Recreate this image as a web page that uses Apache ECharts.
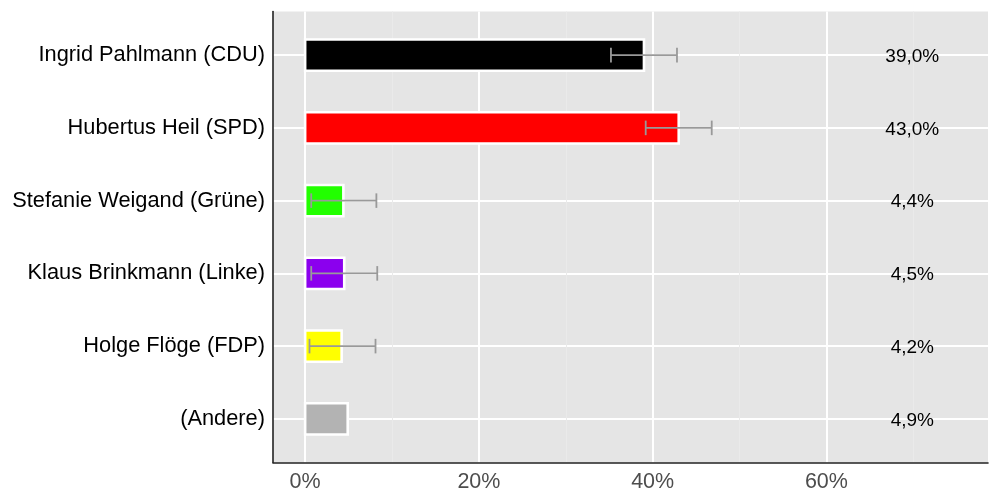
<!DOCTYPE html>
<html>
<head>
<meta charset="utf-8">
<script src="https://cdn.jsdelivr.net/npm/echarts@6/dist/echarts.min.js"></script>
<style>html,body{margin:0;padding:0;background:#fff}#c{width:1000px;height:500px}</style>
</head>
<body>
<div id="c"></div>
<script>
const categories = ['Ingrid Pahlmann (CDU)', 'Hubertus Heil (SPD)', 'Stefanie Weigand (Grüne)', 'Klaus Brinkmann (Linke)', 'Holge Flöge (FDP)', '(Andere)'];
const values = [39.0, 43.0, 4.4, 4.5, 4.2, 4.9];
const errLow = [35.2, 39.2, 0.7, 0.7, 0.5, null];
const errHigh = [42.8, 46.8, 8.2, 8.3, 8.1, null];
const barColors = ['#000000', '#ff0000', '#22ff00', '#8b00ee', '#ffff00', '#b3b3b3'];
const labelX = 70;
const xMajorTicks = [0, 20, 40, 60];
const xMinorTicks = [10, 30, 50, 70];
const yTicks = [0, 1, 2, 3, 4, 5];

const FONT = "'Liberation Sans', Arial, Helvetica, sans-serif";
const fmt = v => v.toFixed(1).replace('.', ',') + '%';

const chart = echarts.init(document.getElementById('c'), null, {renderer: 'canvas'});
chart.setOption({
  animation: false,
  grid: {left: 273, right: 12, top: 11.5, bottom: 37.5, show: true, backgroundColor: '#e5e5e5', borderWidth: 0},
  xAxis: [{
    type: 'value', min: -3.7, max: 78.6,
    axisLine: {show: true, onZero: false, lineStyle: {color: '#222', width: 1.6}},
    axisTick: {show: false, customValues: xMajorTicks},
    axisLabel: {customValues: xMajorTicks, formatter: v => v + '%', color: '#4d4d4d', fontSize: 21.5, fontFamily: FONT, margin: 9},
    splitLine: {show: true, lineStyle: {color: '#ffffff', width: 2}}
  }, {
    type: 'value', min: -3.7, max: 78.6, position: 'bottom',
    axisLine: {show: false, onZero: false}, axisLabel: {show: false},
    axisTick: {show: false, customValues: xMinorTicks},
    splitLine: {show: true, lineStyle: {color: '#eaeaea', width: 1}}
  }],
  yAxis: {
    type: 'value', min: -0.6, max: 5.6, inverse: true,
    axisLine: {show: true, onZero: false, lineStyle: {color: '#222', width: 1.6}},
    axisTick: {show: false, customValues: yTicks},
    axisLabel: {customValues: yTicks, formatter: v => categories[v], color: '#000', fontSize: 21.8, fontFamily: FONT, margin: 8},
    splitLine: {show: true, lineStyle: {color: '#ffffff', width: 2}}
  },
  series: [{
    type: 'custom',
    encode: {x: 1, y: 0},
    data: values.map((v, i) => [i, v]),
    renderItem: function (params, api) {
      const i = api.value(0), v = api.value(1);
      const p0 = api.coord([0, i]), p1 = api.coord([v, i]);
      const h = api.size([0, 1])[1] * 0.43;
      return {type: 'rect', shape: {x: p0[0], y: p0[1] - h / 2, width: p1[0] - p0[0], height: h},
        style: {fill: barColors[i], stroke: '#ffffff', lineWidth: 2.6}};
    }
  }, {
    type: 'custom',
    encode: {x: [1, 2], y: 0},
    data: errLow.map((lo, i) => [i, lo, errHigh[i]]).filter(d => d[1] !== null),
    renderItem: function (params, api) {
      const i = api.value(0), lo = api.value(1), hi = api.value(2);
      const a = api.coord([lo, i]), b = api.coord([hi, i]);
      const c = api.size([0, 1])[1] * 0.1;
      const st = {stroke: '#999999', lineWidth: 1.8};
      return {type: 'group', children: [
        {type: 'line', shape: {x1: a[0], y1: a[1], x2: b[0], y2: b[1]}, style: st},
        {type: 'line', shape: {x1: a[0], y1: a[1] - c, x2: a[0], y2: a[1] + c}, style: st},
        {type: 'line', shape: {x1: b[0], y1: b[1] - c, x2: b[0], y2: b[1] + c}, style: st}
      ]};
    }
  }, {
    type: 'custom',
    encode: {x: 1, y: 0},
    data: values.map((v, i) => [i, labelX, v]),
    renderItem: function (params, api) {
      const i = api.value(0);
      const p = api.coord([api.value(1), i]);
      return {type: 'text', x: p[0] - 1, y: p[1] + 1.5,
        style: {text: fmt(api.value(2)), fill: '#000', font: '19px ' + FONT, align: 'center', verticalAlign: 'middle'}};
    }
  }]
});
</script>
</body>
</html>
